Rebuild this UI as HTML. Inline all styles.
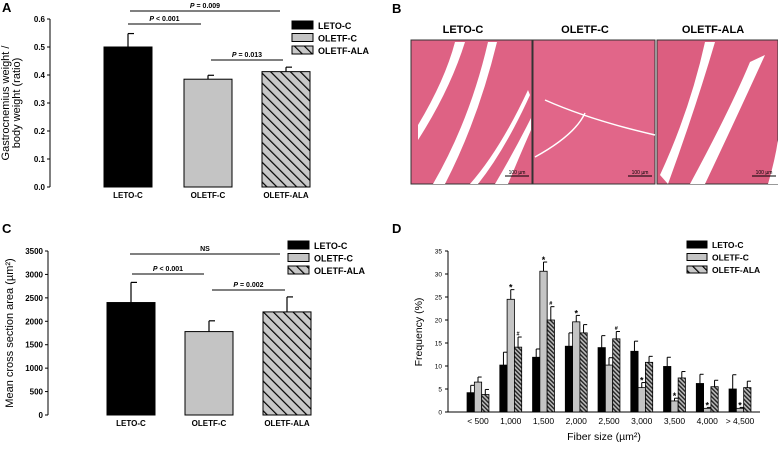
<!DOCTYPE html>
<html><head><meta charset="utf-8"><style>
body{margin:0;background:#fff;width:778px;height:444px;overflow:hidden}
svg{font-family:"Liberation Sans",Arial,sans-serif}
</style></head><body>
<svg id="fig" width="778" height="444">
<defs>
<pattern id="hatch" patternUnits="userSpaceOnUse" width="7" height="7" patternTransform="rotate(-45)">
<rect width="7" height="7" fill="#c8c8c8"/><rect x="0" y="0" width="1.2" height="7" fill="#000"/></pattern>
<pattern id="hatchD" patternUnits="userSpaceOnUse" width="3" height="3" patternTransform="rotate(-45)">
<rect width="3" height="3" fill="#bbb"/><rect x="0" y="0" width="1.4" height="3" fill="#222"/></pattern>
</defs>
<g id="A"></g>
<g id="B">
<text x="392" y="13" font-size="13" font-weight="bold">B</text>
<text x="463" y="33" font-size="11" font-weight="bold" text-anchor="middle">LETO-C</text>
<text x="585" y="33" font-size="11" font-weight="bold" text-anchor="middle">OLETF-C</text>
<text x="713" y="33" font-size="11" font-weight="bold" text-anchor="middle">OLETF-ALA</text>
<g>
<rect x="411" y="40" width="121" height="144" fill="#de6284" stroke="#333"/>
<path d="M418 125 Q445 80 455 42 L465 42 Q450 90 418 140Z M433 184 Q470 120 488 42 L497 42 Q478 120 445 184Z M495 184 Q515 150 531 118 L531 130 Q520 155 508 184Z M470 184 Q500 150 528 90 L530 95 Q505 150 478 184Z" fill="#fff"/>
<line x1="505" y1="176" x2="529" y2="176" stroke="#000"/><text x="517" y="174" font-size="5" text-anchor="middle">100 µm</text></g>
<g>
<rect x="533" y="40" width="122" height="144" fill="#e16689" stroke="#333"/>
<path d="M545 100 Q590 120 655 135 M535 157 Q575 135 585 113" stroke="#fff" stroke-width="1.5" fill="none"/>
<line x1="628" y1="176" x2="652" y2="176" stroke="#000"/><text x="640" y="174" font-size="5" text-anchor="middle">100 µm</text></g>
<g>
<rect x="657" y="40" width="121" height="144" fill="#dc5e80" stroke="#333"/>
<path d="M660 175 Q690 110 705 42 L715 42 Q695 110 668 184Z M690 184 Q730 110 750 62 L765 55 Q740 110 705 184Z M768 184 Q775 160 778 140 L778 184Z" fill="#fff"/>
<line x1="752" y1="176" x2="776" y2="176" stroke="#000"/><text x="764" y="174" font-size="5" text-anchor="middle">100 µm</text></g>
</g>
<g id="C"></g>
<g id="D"></g>
</svg>
<script>
const groups=["LETO-C","OLETF-C","OLETF-ALA"];
const aValues=[0.50,0.385,0.412];
const aErrTop=[0.548,0.399,0.428];
const aTicks=["0.0","0.1","0.2","0.3","0.4","0.5","0.6"];
const cValues=[2400,1780,2200];
const cErrTop=[2830,2010,2520];
const cTicks=["0","500","1000","1500","2000","2500","3000","3500"];
const dCats=["< 500","1,000","1,500","2,000","2,500","3,000","3,500","4,000","> 4,500"];
const dLeto=[4.2,10.2,11.9,14.3,14.0,13.2,9.9,6.2,5.0];
const dLetoErr=[5.8,13.0,13.7,17.2,16.6,15.4,11.9,8.2,8.1];
const dOletf=[6.5,24.5,30.6,19.6,10.2,5.3,2.4,0.8,0.8];
const dOletfErr=[7.6,26.6,32.6,21.0,11.8,6.4,3.0,1.0,1.0];
const dAla=[3.8,14.1,20.0,17.2,15.9,10.8,7.4,5.5,5.3];
const dAlaErr=[4.9,16.3,22.9,19.0,17.5,12.1,8.8,6.9,6.7];
const dStars=[false,true,true,true,false,true,true,true,true];
const dHash=[false,true,true,false,true,false,false,false,false];
const dTicks=[0,5,10,15,20,25,30,35];
const NS="http://www.w3.org/2000/svg";
function el(p,t,a,txt){const e=document.createElementNS(NS,t);for(const k in a)e.setAttribute(k,a[k]);if(txt!==undefined)e.textContent=txt;p.appendChild(e);return e;}
const fills=["#000","#c4c4c4","url(#hatch)"];

function barPanel(g,o){
  const y=v=>o.y0-(v/o.max)*(o.y0-o.y1);
  let t=el(g,'text',{x:o.lx,y:o.ly,'font-size':13,'font-weight':'bold'},o.label);
  
  let ax=el(g,'line',{x1:o.ax,y1:o.y1,x2:o.ax,y2:o.y0,stroke:'#000'});
  
  o.ticks.forEach((lab,i)=>{const v=i*o.max/(o.ticks.length-1);const yy=y(v);
    let tk=el(g,'line',{x1:o.ax-3,y1:yy,x2:o.ax,y2:yy,stroke:'#000'});
    
    let tl=el(g,'text',{x:o.ax-5,y:yy+3,'font-size':8,'font-weight':'bold','text-anchor':'end'},lab);
    });
  o.vals.forEach((v,i)=>{const x=o.bx[i];
    let e=el(g,'line',{x1:x+o.bw/2,y1:y(v),x2:x+o.bw/2,y2:y(o.err[i]),stroke:'#000','stroke-width':1.2});
    
    let c=el(g,'line',{x1:x+o.bw/2,y1:y(o.err[i]),x2:x+o.bw/2+6,y2:y(o.err[i]),stroke:'#000','stroke-width':1.2});
    
    let r=el(g,'rect',{x:x,y:y(v),width:o.bw,height:o.y0-y(v),fill:fills[i],stroke:'#000','stroke-width':1});
    
    let l=el(g,'text',{x:x+o.bw/2,y:o.y0+11,'font-size':8,'font-weight':'bold','text-anchor':'middle'},groups[i]);
    });
  o.sig.forEach(s=>{let l=el(g,'line',{x1:s[0],y1:s[2],x2:s[1],y2:s[2],stroke:'#000'});
    
    let tx=el(g,'text',{x:(s[0]+s[1])/2,y:s[2]-3,'font-size':7,'font-weight':'bold','text-anchor':'middle'});
    
    if(s[3]==='NS'){tx.textContent='NS';}else{el(tx,'tspan',{'font-style':'italic'},'P');el(tx,'tspan',{},' '+s[3]);}});
  groups.forEach((gname,i)=>{const yy=o.legY+i*12.5;
    let r=el(g,'rect',{x:o.legX,y:yy,width:21,height:8,fill:fills[i],stroke:'#000'});
    
    let tx=el(g,'text',{x:o.legX+26,y:yy+8,'font-size':9,'font-weight':'bold'},gname);
    });
  o.yt.forEach((s,i)=>{let tx=el(g,'text',{x:0,y:0,'font-size':o.yfs,'text-anchor':'middle',transform:`translate(${o.ytx+i*11},${(o.y0+o.y1)/2}) rotate(-90)`},s);
    });
}
barPanel(document.getElementById('A'),{label:'A',lx:2,ly:12,ax:50,y0:187,y1:19,max:0.6,ticks:aTicks,vals:aValues,err:aErrTop,
 bx:[104,184,262],bw:48,sig:[[130,280,11,'= 0.009'],[128,201,24,'< 0.001'],[211,283,60,'= 0.013']],legX:292,legY:21,
 yt:['Gastrocnemius weight /','body weight  (ratio)'],ytx:9,yfs:11});
barPanel(document.getElementById('C'),{label:'C',lx:2,ly:233,ax:48,y0:415,y1:251,max:3500,ticks:cTicks,vals:cValues,err:cErrTop,
 bx:[107,185,263],bw:48,sig:[[130,280,254,'NS'],[132,204,274,'< 0.001'],[212,285,290,'= 0.002']],legX:288,legY:241,
 yt:['Mean cross section area (µm²)'],ytx:13,yfs:11});

(function(){
  const g=document.getElementById('D');
  const y0=412,y1=251,max=35,ax=448;const y=v=>y0-v/max*(y0-y1);
  const cx=i=>478+i*32.75;const bw=7.3;
  let t=el(g,'text',{x:392,y:233,'font-size':13,'font-weight':'bold'},'D');
  
  let a=el(g,'line',{x1:ax,y1:y1,x2:ax,y2:y0,stroke:'#000'});
  
  let b=el(g,'line',{x1:ax,y1:y0,x2:760,y2:y0,stroke:'#000'});
  
  dTicks.forEach(v=>{let tk=el(g,'line',{x1:ax-3,y1:y(v),x2:ax,y2:y(v),stroke:'#000'});
    
    let tl=el(g,'text',{x:ax-6,y:y(v)+2.5,'font-size':6.5,'text-anchor':'end'},String(v));
    });
  const series=[[dLeto,dLetoErr,'#000'],[dOletf,dOletfErr,'#c4c4c4'],[dAla,dAlaErr,'url(#hatchD)']];
  dCats.forEach((c,i)=>{
    series.forEach((s,j)=>{const x=cx(i)-1.5*bw+j*bw;const v=s[0][i],e=s[1][i];
      let eb=el(g,'line',{x1:x+bw/2,y1:y(v),x2:x+bw/2,y2:y(e),stroke:'#000'});
      
      let ec=el(g,'line',{x1:x+bw/2,y1:y(e),x2:x+bw,y2:y(e),stroke:'#000'});
      
      let r=el(g,'rect',{x:x,y:y(v),width:bw,height:y0-y(v),fill:s[2],stroke:'#000','stroke-width':0.8});
      });
    if(dStars[i]){let st=el(g,'text',{x:cx(i),y:y(dOletfErr[i])+1,'font-size':9,'font-weight':'bold','text-anchor':'middle'},'*');
      }
    if(dHash[i]){let h=el(g,'text',{x:cx(i)+bw,y:y(dAlaErr[i])-1.5,'font-size':5.5,'font-weight':'bold','text-anchor':'middle'},'#');
      }
    let tl=el(g,'text',{x:cx(i),y:424,'font-size':8.5,'text-anchor':'middle'},c);
    });
  let xt=el(g,'text',{x:604,y:440,'font-size':10.5,'text-anchor':'middle'});
  
  xt.innerHTML='Fiber  size (µm²)';
  let yt=el(g,'text',{x:0,y:0,'font-size':10.5,'text-anchor':'middle',transform:'translate(422,332) rotate(-90)'},'Frequency (%)');
  
  const lf=['#000','#c4c4c4','url(#hatch)'];
  groups.forEach((gn,i)=>{const yy=241+i*12.5;
    let r=el(g,'rect',{x:687,y:yy,width:20,height:7,fill:lf[i],stroke:'#000'});
    
    let tx=el(g,'text',{x:712,y:yy+7,'font-size':8.5,'font-weight':'bold'},gn);
    });
})();
</script>
</body></html>
